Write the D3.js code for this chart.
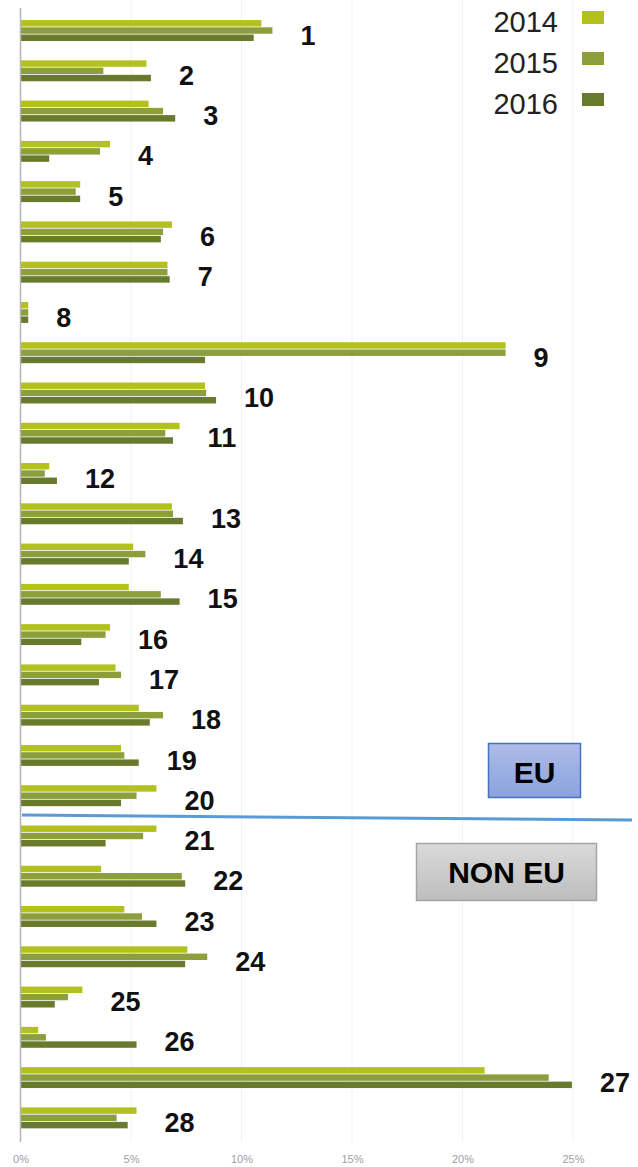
<!DOCTYPE html>
<html>
<head>
<meta charset="utf-8">
<script src="https://cdn.jsdelivr.net/npm/d3@7"></script>
<style>
  body { margin: 0; background: #fff; }
  .chart text { font-family: "Liberation Sans", Arial, sans-serif; }
</style>
</head>
<body>
<div class="chart"></div>
<script>
var svgWidth = 638;
var svgHeight = 1167;

// data
var categories = ["1","2","3","4","5","6","7","8","9","10","11","12","13","14",
  "15","16","17","18","19","20","21","22","23","24","25","26","27","28"];
var years = ["2014", "2015", "2016"];
var values2014 = [10.9, 5.7, 5.8, 4.05, 2.7, 6.85, 6.65, 0.35, 21.95, 8.35, 7.2, 1.3, 6.85, 5.1,
  4.9, 4.05, 4.3, 5.35, 4.55, 6.15, 6.15, 3.65, 4.7, 7.55, 2.8, 0.8, 21.0, 5.25];
var values2015 = [11.4, 3.75, 6.45, 3.6, 2.5, 6.45, 6.65, 0.35, 21.95, 8.4, 6.55, 1.1, 6.9, 5.65,
  6.35, 3.85, 4.55, 6.45, 4.7, 5.25, 5.55, 7.3, 5.5, 8.45, 2.15, 1.15, 23.9, 4.35];
var values2016 = [10.55, 5.9, 7.0, 1.3, 2.7, 6.35, 6.75, 0.35, 8.35, 8.85, 6.9, 1.65, 7.35, 4.9,
  7.2, 2.75, 3.55, 5.85, 5.35, 4.55, 3.85, 7.45, 6.15, 7.45, 1.55, 5.25, 24.95, 4.85];
var tickValues = [0, 5, 10, 15, 20, 25];
var colors = ["#b3c11f", "#8c9f3b", "#687a2b"];

var series = [values2014, values2015, values2016];

var svg = d3.select(".chart")
  .append("svg")
  .attr("width", svgWidth)
  .attr("height", svgHeight);

var xScale = d3.scaleLinear()
  .domain([0, 25])
  .range([20.5, 573]);

var yScale = d3.scaleBand()
  .domain(categories)
  .range([10, 1138.4])
  .paddingInner(0.46)
  .paddingOuter(0.24);

var subScale = d3.scaleBand()
  .domain(years)
  .range([0, yScale.bandwidth()]);

// gridlines
svg.append("g")
  .selectAll("line")
  .data(tickValues.slice(1))
  .enter().append("line")
    .attr("x1", function(d) { return xScale(d); })
    .attr("x2", function(d) { return xScale(d); })
    .attr("y1", 0)
    .attr("y2", 1142)
    .attr("stroke", "#f1f1f1")
    .attr("stroke-width", 1);

// bars
var groups = svg.append("g")
  .selectAll("g")
  .data(categories)
  .enter().append("g")
    .attr("transform", function(d) { return "translate(0," + yScale(d) + ")"; });

groups.selectAll("rect")
  .data(function(d, i) {
    return years.map(function(y, j) { return { year: y, value: series[j][i], idx: j }; });
  })
  .enter().append("rect")
    .attr("x", xScale(0))
    .attr("y", function(d) { return subScale(d.year) + 0.4; })
    .attr("width", function(d) { return xScale(d.value) - xScale(0); })
    .attr("height", subScale.bandwidth() - 0.8)
    .attr("fill", function(d) { return colors[d.idx]; });

// category labels
groups.append("text")
  .attr("x", function(d, i) {
    return xScale(d3.max(series, function(s) { return s[i]; })) + 28;
  })
  .attr("y", 25)
  .attr("font-size", "27px")
  .attr("font-weight", "bold")
  .attr("fill", "#111")
  .text(function(d) { return d; });

// axis
var bottomAxis = d3.axisBottom(xScale)
  .tickValues(tickValues)
  .tickSize(0)
  .tickPadding(0)
  .tickFormat(function(d) { return d + "%"; });

var axisG = svg.append("g")
  .attr("transform", "translate(0,1155)")
  .call(bottomAxis);
axisG.select(".domain").remove();
axisG.selectAll("text")
  .attr("font-size", "11px")
  .attr("fill", "#a0a0a0")
  .attr("font-family", "'Liberation Sans Narrow', 'Liberation Sans', Arial, sans-serif");

svg.append("line")
  .attr("x1", xScale(0))
  .attr("x2", xScale(0))
  .attr("y1", 8)
  .attr("y2", 1142)
  .attr("stroke", "#b5b5b5")
  .attr("stroke-width", 1.5);

// legend
var legend = svg.append("g")
  .selectAll("g")
  .data(years)
  .enter().append("g")
    .attr("transform", function(d, i) { return "translate(0," + (i * 41) + ")"; });

legend.append("text")
  .attr("x", 558)
  .attr("y", 32)
  .attr("text-anchor", "end")
  .attr("font-size", "29px")
  .attr("fill", "#222")
  .text(function(d) { return d; });

legend.append("rect")
  .attr("x", 582)
  .attr("y", 11)
  .attr("width", 22)
  .attr("height", 13)
  .attr("fill", function(d, i) { return colors[i]; });

// EU / NON EU divider
svg.append("line")
  .attr("x1", 22)
  .attr("y1", 815)
  .attr("x2", 632)
  .attr("y2", 820)
  .attr("stroke", "#5b9bd5")
  .attr("stroke-width", 3);

var defs = svg.append("defs");
var gEu = defs.append("linearGradient").attr("id", "gEu").attr("x1", 0).attr("y1", 0).attr("x2", 0).attr("y2", 1);
gEu.append("stop").attr("offset", "0%").attr("stop-color", "#aebce8");
gEu.append("stop").attr("offset", "100%").attr("stop-color", "#8aa2dc");
var gNon = defs.append("linearGradient").attr("id", "gNon").attr("x1", 0).attr("y1", 0).attr("x2", 0).attr("y2", 1);
gNon.append("stop").attr("offset", "0%").attr("stop-color", "#dadada");
gNon.append("stop").attr("offset", "100%").attr("stop-color", "#bdbdbd");

svg.append("rect")
  .attr("x", 488.5).attr("y", 743.5)
  .attr("width", 92).attr("height", 54)
  .attr("fill", "url(#gEu)")
  .attr("stroke", "#4472c4")
  .attr("stroke-width", 1.5);
svg.append("text")
  .attr("x", 534.5).attr("y", 783)
  .attr("text-anchor", "middle")
  .attr("font-size", "30px")
  .attr("font-weight", "bold")
  .attr("fill", "#000")
  .text("EU");

svg.append("rect")
  .attr("x", 416.5).attr("y", 843.5)
  .attr("width", 180).attr("height", 57)
  .attr("fill", "url(#gNon)")
  .attr("stroke", "#a5a5a5")
  .attr("stroke-width", 1.5);
svg.append("text")
  .attr("x", 506.5).attr("y", 883)
  .attr("text-anchor", "middle")
  .attr("font-size", "30px")
  .attr("font-weight", "bold")
  .attr("fill", "#000")
  .text("NON EU");
</script>
</body>
</html>
